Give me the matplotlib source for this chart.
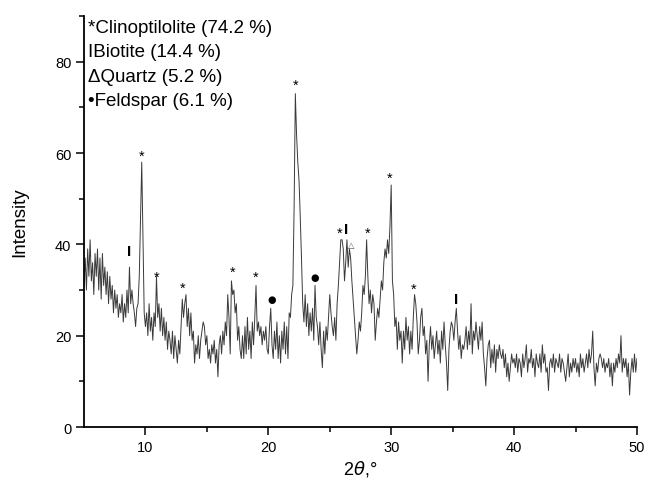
import numpy as np
import matplotlib.pyplot as plt

plt.rcParams['font.family'] = ['Liberation Sans', 'DejaVu Sans']

# 2theta grid, 0.1 deg steps from 5 to 50
two_theta = np.round(np.arange(5.0, 50.01, 0.1), 1)

# intensity, one row per degree (x.0 .. x.9)
intensity = [
    31, 37, 30, 39, 33, 41, 32, 36, 29, 38,   # 5
    33, 39, 30, 37, 28, 38, 31, 35, 29, 34,   # 6
    27, 33, 28, 31, 25, 30, 26, 29, 24, 27,   # 7
    25, 29, 23, 27, 24, 30, 25, 35, 27, 30,   # 8
    27, 25, 22, 26, 27, 33, 45, 58, 42, 25,   # 9
    22, 25, 20, 27, 21, 24, 19, 25, 22, 33,   # 10
    24, 27, 21, 26, 20, 24, 19, 23, 17, 21,   # 11
    19, 16, 21, 15, 20, 17, 14, 19, 16, 22,   # 12
    28, 24, 27, 29, 22, 26, 20, 25, 19, 21,   # 13
    14, 18, 16, 20, 15, 19, 21, 23, 22, 18,   # 14
    20, 15, 17, 14, 18, 16, 19, 14, 17, 11,   # 15
    18, 20, 16, 21, 18, 23, 20, 29, 24, 16,   # 16
    32, 29, 30, 25, 27, 19, 22, 17, 15, 20,   # 17
    15, 22, 16, 24, 17, 21, 15, 23, 18, 24,   # 18
    31, 21, 23, 20, 22, 18, 21, 19, 22, 17,   # 19
    16, 22, 26, 18, 15, 21, 17, 23, 15, 20,   # 20
    14, 21, 17, 23, 16, 22, 15, 25, 24, 29,   # 21
    31, 48, 73, 64, 58, 54, 46, 37, 27, 23,   # 22
    29, 22, 27, 20, 25, 21, 26, 19, 31, 24,   # 23
    22, 18, 23, 17, 13, 21, 16, 22, 19, 24,   # 24
    29, 25, 22, 20, 24, 19, 27, 31, 36, 41,   # 25
    41, 39, 32, 36, 41, 35, 39, 37, 32, 28,   # 26
    24, 20, 16, 19, 23, 21, 25, 31, 29, 33,   # 27
    41, 33, 27, 30, 25, 29, 27, 19, 23, 26,   # 28
    24, 28, 32, 30, 36, 39, 37, 41, 38, 44,   # 29
    53, 32, 29, 22, 24, 17, 23, 19, 21, 14,   # 30
    21, 17, 24, 19, 22, 16, 21, 17, 24, 29,   # 31
    27, 23, 16, 19, 24, 26, 20, 22, 16, 19,   # 32
    10, 18, 22, 17, 20, 15, 18, 21, 16, 19,   # 33
    14, 21, 17, 23, 18, 14, 8, 17, 21, 23,    # 34
    22, 19, 23, 26, 21, 17, 20, 15, 18, 17,   # 35
    19, 22, 17, 21, 18, 27, 16, 21, 19, 23,   # 36
    20, 17, 22, 19, 23, 16, 13, 9, 15, 18,    # 37
    19, 13, 17, 14, 18, 12, 17, 15, 18, 16,   # 38
    15, 17, 13, 16, 11, 14, 10, 13, 16, 14,   # 39
    15, 13, 16, 12, 15, 14, 11, 16, 13, 15,   # 40
    18, 12, 15, 14, 17, 13, 15, 11, 16, 14,   # 41
    13, 16, 12, 18, 14, 16, 12, 13, 8, 14,    # 42
    15, 13, 16, 12, 15, 14, 13, 16, 12, 15,   # 43
    14, 12, 10, 13, 16, 11, 14, 12, 15, 13,   # 44
    15, 12, 14, 11, 16, 13, 15, 12, 14, 16,   # 45
    13, 17, 14, 16, 21, 13, 9, 14, 12, 15,    # 46
    16, 15, 13, 15, 12, 14, 13, 15, 11, 14,   # 47
    9, 14, 12, 15, 13, 16, 14, 20, 12, 15,    # 48
    13, 15, 11, 14, 7, 12, 15, 12, 16, 12,    # 49
    15,                                        # 50
]

# phase marks above the peaks
mark_symbols = ['I', '*', '*', '*', '*', '*', '\u25cf', '*', '\u25cf',
                '*', 'I', '\u0394', '*', '*', '*', 'I']
mark_x = [8.7, 9.7, 10.9, 13.0, 17.1, 19.0, 20.25, 22.25, 23.8,
          25.8, 26.35, 26.72, 28.05, 29.85, 31.86, 35.25]
mark_y = [38.5, 59.5, 33.0, 30.5, 34.0, 33.0, 28.0, 75.0, 32.8,
          42.5, 43.3, 40.0, 42.5, 54.6, 30.2, 28.0]

phase_lines = ['*Clinoptilolite (74.2 %)', 'IBiotite (14.4 %)',
               '\u0394Quartz (5.2 %)', '\u2022Feldspar (6.1 %)']

fig = plt.figure(figsize=(6.46, 4.89), dpi=100)
ax = fig.add_axes([0.130, 0.1247, 0.856, 0.8405])

ax.plot(two_theta, intensity, color='#3a3a3a', linewidth=0.7)

for s, x, y in zip(mark_symbols, mark_x, mark_y):
    if s == 'I':
        ax.text(x, y, s, ha='center', va='center', fontsize=11, fontweight='bold')
    elif s == '\u25cf':
        ax.text(x, y, s, ha='center', va='center', fontsize=7,
                family=['DejaVu Sans'])
    elif s == '\u0394':
        ax.text(x, y, '\u25b3', ha='center', va='center', fontsize=6,
                family=['DejaVu Sans'], color='#555555')
    else:
        ax.text(x, y, s, ha='center', va='center', fontsize=10.5)

for i, line in enumerate(phase_lines):
    ax.text(0.008, 0.973 - i * 0.0595, line, transform=ax.transAxes,
            ha='left', va='center', fontsize=13.5)

ax.set_xlim(5, 50)
ax.set_ylim(0, 90)
ax.set_xticks([10, 20, 30, 40, 50])
ax.set_xticks([15, 25, 35, 45], minor=True)
ax.set_yticks([0, 20, 40, 60, 80])
ax.set_yticks([10, 30, 50, 70, 90], minor=True)

for axis in ['top', 'right']:
    ax.spines[axis].set_visible(False)
for axis in ['left', 'bottom']:
    ax.spines[axis].set_linewidth(1.3)

ax.tick_params(which='both', direction='out', width=1.1, labelsize=10.5)
ax.tick_params(which='major', length=5.5)
ax.tick_params(which='minor', length=3.5)

ax.set_xlabel(r'2$\theta$,°', fontsize=13, labelpad=3)
ax.set_ylabel('Intensity', fontsize=13.5, labelpad=19)

plt.savefig('out.png', dpi=100)
plt.close(fig)
